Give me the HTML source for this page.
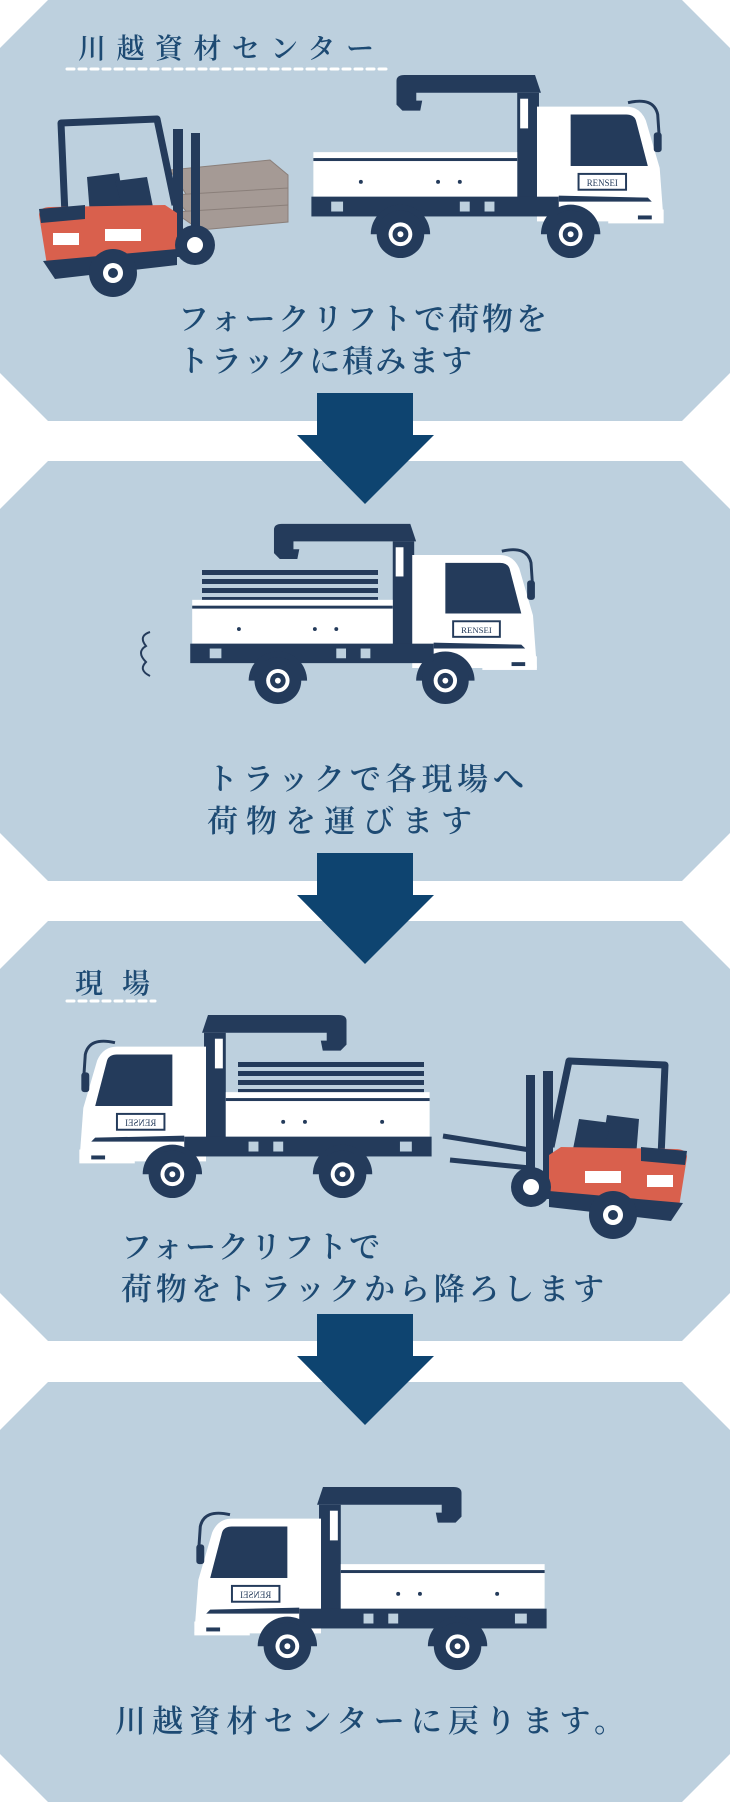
<!DOCTYPE html>
<html><head><meta charset="utf-8"><style>
html,body{margin:0;padding:0;background:#fff;}
svg{display:block;}
.t{font-family:"Liberation Serif","Noto Serif CJK JP","Noto Serif CJK SC",serif;fill:#1d4a73;font-weight:600;}
</style></head><body>
<svg width="730" height="1805" viewBox="0 0 730 1805" xmlns="http://www.w3.org/2000/svg">
<defs>
<symbol id="truck" viewBox="0 0 360 190">
  <path d="M86 10 Q86 4 94 4 L226 4 L232 22 L106 22 L106 30 L112 30 L110 40 L92 40 L86 34 Z" fill="#243b5b"/>
  <rect x="208" y="22" width="22" height="120" fill="#243b5b"/>
  <rect x="211" y="28" width="8" height="30" fill="#fff"/>
  <rect x="2" y="82" width="206" height="45" fill="#fff"/>
  <rect x="2" y="88" width="206" height="3" fill="#243b5b"/>
  <circle cx="50" cy="112" r="2" fill="#243b5b"/>
  <circle cx="128" cy="112" r="2" fill="#243b5b"/>
  <circle cx="150" cy="112" r="2" fill="#243b5b"/>
  <path d="M228 36 L318 36 Q332 36 338 50 L352 98 L356 152 L228 152 Z" fill="#fff"/>
  <path d="M262 44 L318 44 Q326 44 328 50 L340 96 L262 96 Z" fill="#243b5b"/>
  <path d="M320 32 Q346 26 350 44 L352 74" fill="none" stroke="#243b5b" stroke-width="3"/>
  <rect x="346" y="62" width="8" height="20" rx="3" fill="#243b5b"/>
  <rect x="270" y="104" width="48" height="16" fill="#fff" stroke="#243b5b" stroke-width="2"/>
  <text x="294" y="116" text-anchor="middle" font-family="Liberation Serif,serif" font-size="9" fill="#243b5b">RENSEI</text>
  <path d="M250 126 L340 128 L344 132 L250 132 Z" fill="#243b5b"/>
  <rect x="0" y="127" width="250" height="20" fill="#243b5b"/>
  <rect x="20" y="132" width="12" height="10" fill="#bdd0de"/>
  <rect x="150" y="132" width="10" height="10" fill="#bdd0de"/>
  <rect x="175" y="132" width="10" height="10" fill="#bdd0de"/>
  <path d="M60 165 A30 30 0 0 1 120 165 Z" fill="#243b5b"/>
  <path d="M232 165 A30 30 0 0 1 292 165 Z" fill="#243b5b"/>
  <rect x="300" y="140" width="56" height="14" fill="#fff"/>
  <rect x="330" y="146" width="14" height="4" fill="#243b5b"/>
  <g fill="#243b5b"><circle cx="90" cy="165" r="24"/><circle cx="262" cy="165" r="24"/></g>
  <g fill="#fff"><circle cx="90" cy="165" r="12"/><circle cx="262" cy="165" r="12"/></g>
  <g fill="#243b5b"><circle cx="90" cy="165" r="8"/><circle cx="262" cy="165" r="8"/></g>
  <g fill="#fff"><circle cx="90" cy="165" r="3"/><circle cx="262" cy="165" r="3"/></g>
</symbol>
<symbol id="fork" viewBox="0 0 200 185">
  <path d="M30 100 L26 8 L122 4 L140 90" fill="none" stroke="#243b5b" stroke-width="7" stroke-linejoin="round"/>
  <path d="M52 62 L84 58 L90 96 L55 100 Z" fill="#243b5b"/>
  <path d="M80 66 L112 62 L118 92 L88 96 Z" fill="#243b5b"/>
  <rect x="138" y="14" width="10" height="128" fill="#243b5b"/>
  <rect x="156" y="18" width="9" height="124" fill="#243b5b"/>
  <path d="M4 100 Q4 92 16 92 L130 90 L142 98 L142 138 L12 150 Z" fill="#d9604d"/>
  <path d="M4 94 L50 90 L50 104 L6 108 Z" fill="#243b5b"/>
  <path d="M8 146 L142 134 L142 150 L20 164 Z" fill="#243b5b"/>
  <rect x="70" y="114" width="36" height="12" fill="#fff"/>
  <rect x="18" y="118" width="26" height="12" fill="#fff"/>
  <circle cx="78" cy="158" r="24" fill="#243b5b"/>
  <circle cx="78" cy="158" r="10" fill="#fff"/>
  <circle cx="78" cy="158" r="5" fill="#243b5b"/>
  <circle cx="160" cy="130" r="20" fill="#243b5b"/>
  <circle cx="160" cy="130" r="8" fill="#fff"/>
</symbol>
</defs>

<g fill="#bdd0de">
<polygon points="48,0 682,0 730,48 730,373 682,421 48,421 0,373 0,48"/>
<polygon points="48,461 682,461 730,509 730,833 682,881 48,881 0,833 0,509"/>
<polygon points="48,921 682,921 730,969 730,1293 682,1341 48,1341 0,1293 0,969"/>
<polygon points="48,1382 682,1382 730,1430 730,1754 682,1802 48,1802 0,1754 0,1430"/>
</g>

<g fill="#0e4470">
<polygon points="317,393 413,393 413,435 434,435 365,504 297,435 317,435"/>
<polygon points="317,853 413,853 413,895 434,895 365,964 297,895 317,895"/>
<polygon points="317,1314 413,1314 413,1356 434,1356 365,1425 297,1356 317,1356"/>
</g>

<!-- panel 1 -->
<text class="t" x="78" y="58" font-size="28" textLength="296" lengthAdjust="spacing">川越資材センター</text>
<line x1="67" y1="69" x2="391" y2="69" stroke="#fff" stroke-width="3" stroke-dasharray="7,5" stroke-linecap="round"/>
<g fill="#a59a95" stroke="#8a7f7a" stroke-width="1">
<path d="M170 170 L270 160 L288 175 L288 190 L190 200 Z"/>
<path d="M172 195 L288 188 L288 208 L192 218 Z"/>
<path d="M174 212 L288 205 L288 222 L200 230 Z"/>
</g>
<use href="#fork" x="35" y="115" width="200" height="185"/>
<use href="#truck" x="311" y="71" width="357" height="188"/>
<text class="t" x="178" y="330" font-size="31" textLength="369" lengthAdjust="spacing">フォークリフトで荷物を</text>
<text class="t" x="178" y="372" font-size="31" textLength="294" lengthAdjust="spacing">トラックに積みます</text>

<!-- panel 2 -->
<g fill="#243b5b">
<rect x="202" y="570" width="176" height="5"/>
<rect x="202" y="579" width="176" height="5"/>
<rect x="202" y="588" width="176" height="5"/>
<rect x="202" y="597" width="176" height="5"/>
<rect x="202" y="606" width="176" height="4"/>
</g>
<use href="#truck" x="190" y="520" width="351" height="185"/>
<path d="M150 632 Q138 636 146 646 Q136 652 146 662 Q138 670 150 676" fill="none" stroke="#243b5b" stroke-width="2"/>
<text class="t" x="207" y="790" font-size="31" textLength="317" lengthAdjust="spacing">トラックで各現場へ</text>
<text class="t" x="207" y="832" font-size="31" textLength="265" lengthAdjust="spacing">荷物を運びます</text>

<!-- panel 3 -->
<text class="t" x="75" y="993" font-size="28" textLength="75" lengthAdjust="spacing">現場</text>
<line x1="67" y1="1001" x2="155" y2="1001" stroke="#fff" stroke-width="3" stroke-dasharray="7,5" stroke-linecap="round"/>
<g fill="#243b5b">
<rect x="238" y="1062" width="186" height="5"/>
<rect x="238" y="1071" width="186" height="5"/>
<rect x="238" y="1080" width="186" height="5"/>
<rect x="238" y="1089" width="186" height="5"/>
</g>
<g transform="translate(432,1011) scale(-1,1)"><use href="#truck" x="0" y="0" width="357" height="188"/></g>
<g stroke="#243b5b" stroke-width="5">
<line x1="443" y1="1136" x2="530" y2="1150"/>
<line x1="450" y1="1160" x2="530" y2="1168"/>
</g>
<g transform="translate(691,1057) scale(-1,1)"><use href="#fork" x="0" y="0" width="200" height="185"/></g>
<text class="t" x="121" y="1258" font-size="31" textLength="259" lengthAdjust="spacing">フォークリフトで</text>
<text class="t" x="121" y="1300" font-size="31" textLength="483" lengthAdjust="spacing">荷物をトラックから降ろします</text>

<!-- panel 4 -->
<g transform="translate(547,1483) scale(-1,1)"><use href="#truck" x="0" y="0" width="357" height="188"/></g>
<text class="t" x="115" y="1732" font-size="31" textLength="510" lengthAdjust="spacing">川越資材センターに戻ります。</text>
</svg>
</body></html>
